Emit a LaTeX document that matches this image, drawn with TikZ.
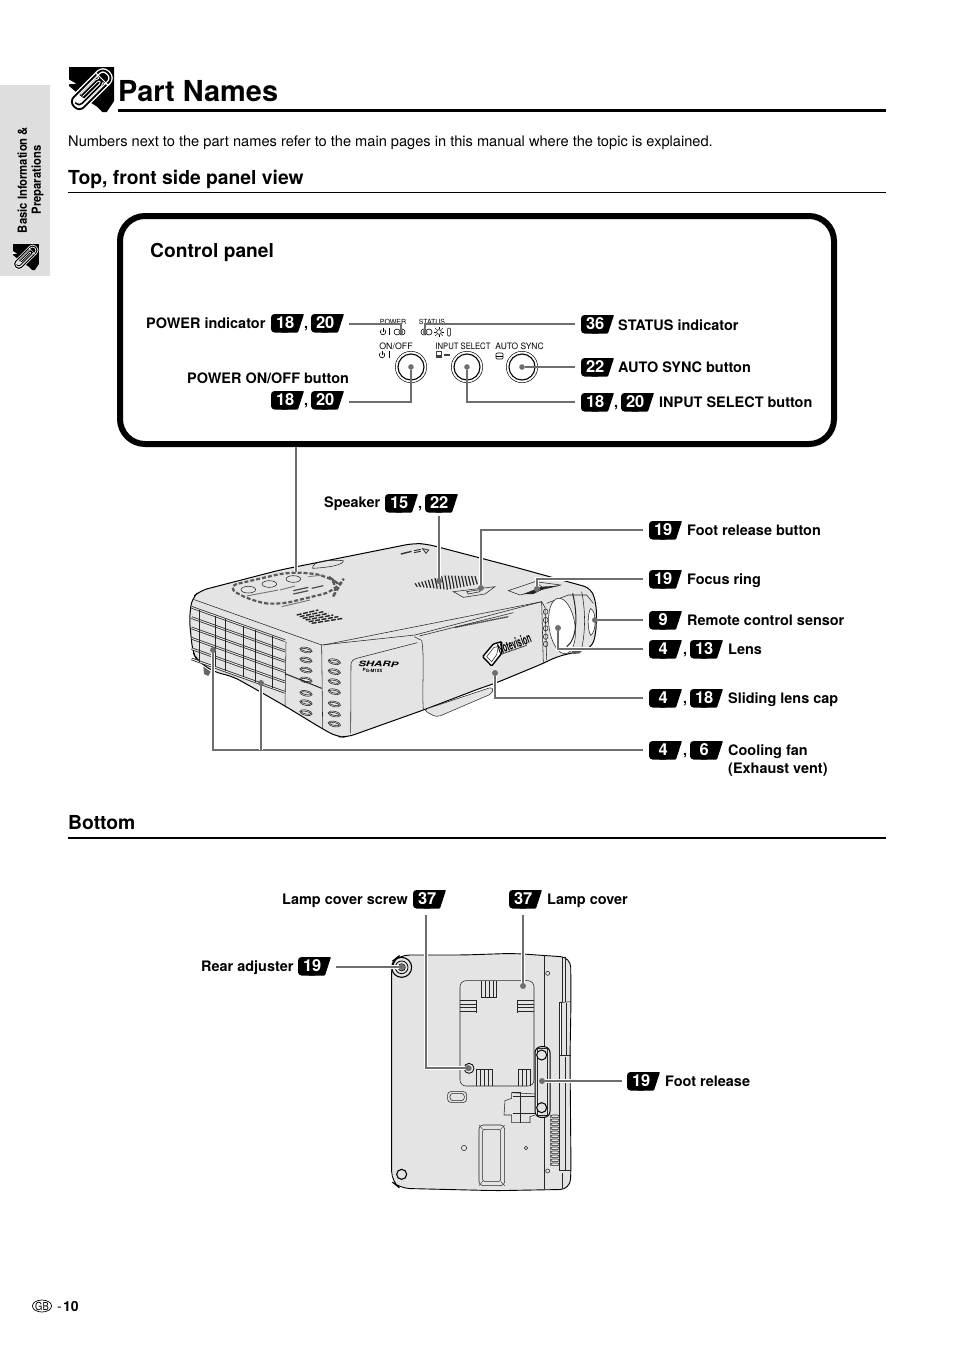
\documentclass[tikz,border=0pt]{standalone}
\usepackage{fontspec}
\usepackage{graphicx}
\usetikzlibrary{shapes.geometric}
\setmainfont{TeX Gyre Heros}
\definecolor{conngray}{HTML}{6E6E6E}
\definecolor{bodygray}{HTML}{E4E4E4}
\definecolor{tabgray}{HTML}{DEDEDE}
\newcommand\fsz[1]{\fontsize{#1}{#1}\selectfont}
\tikzset{
  x=1pt,y=-1pt,
  lbl/.style={anchor=base west,inner sep=0pt,font=\fsz{14.45}\bfseries},
  badgetext/.style={anchor=west,inner sep=0pt,minimum width=28pt,minimum height=17pt,text=white,font=\fsz{16.5}\bfseries,align=center},
  conn/.style={draw=conngray,line width=1.7pt,preaction={draw=white,line width=3.6pt}},
  connp/.style={draw=conngray,line width=1.7pt},
  dotn/.style={circle,fill=conngray,inner sep=0pt,minimum size=5.6pt},
  thin line/.style={line width=.55pt,draw=black!85},
  hair/.style={line width=.4pt,draw=black!80},
  tinyt/.style={inner sep=0pt,font=\fsz{7}},
  smallt/.style={inner sep=0pt,font=\fsz{8.8}},
  comma/.style={inner sep=0pt,font=\fsz{14.3}\bfseries,anchor=base},
}
% name, left x, centre y, text
\newcommand\badge[4]{%
  \fill[rounded corners=3.5pt] (#2,#3-9) rectangle (#2+20,#3+9.5);
  \fill[rounded corners=.8pt] (#2+10,#3-9) -- (#2+33,#3-9) -- (#2+27,#3+9.5) -- (#2+10,#3+9.5) -- cycle;
  \node[badgetext] (#1) at (#2,#3) {#4};}
% x, y, size
\newcommand\clipicon[3]{%
  \begin{scope}[shift={(#1,#2)},x=#3/100*1pt,y=-#3/100*1pt]
    \fill (0,0) -- (100,0) -- (100,76) -- (84,100) -- (74,100) -- (62,88) -- (28,66) -- (0,42) -- cycle;
    \fill[white] (0,28) -- (16,37) -- (0,38) -- cycle;
    \begin{scope}[shift={(50,50)},rotate=45]
      \draw[white,line width=#3*.10pt,rounded corners=#3*.14pt] (-54,-16) rectangle (52,16);
      \draw[black,line width=#3*.04pt,rounded corners=#3*.14pt] (-54,-16) rectangle (52,16);
      \draw[white,line width=#3*.08pt,rounded corners=#3*.09pt] (-46,-5) -- (-46,7) -- (30,7) -- (30,-6) -- (-25,-6);
      \draw[black,line width=#3*.035pt,rounded corners=#3*.09pt] (-46,-5) -- (-46,7) -- (30,7) -- (30,-6) -- (-25,-6);
    \end{scope}
  \end{scope}}
\begin{document}
\begin{tikzpicture}
\useasboundingbox (0,0) rectangle (954,1349);
\fill[white] (0,0) rectangle (954,1349);
% side tab
\fill[tabgray] (0,85) rectangle (50,276);
\node[rotate=90,inner sep=0pt,align=center,font=\fsz{12.5}\bfseries] (tabtext) at (30.5,180) {\scalebox{.9}[1]{Basic Information \&}\\[1.5pt]\scalebox{.9}[1]{Preparations}};
\clipicon{13}{244}{26}
% title
\clipicon{69}{67}{45}
\node[anchor=base west,inner sep=0pt,font=\fsz{28.9}\bfseries] (title) at (118,101) {Part Names};
\draw[line width=3pt] (118,110.5) -- (886,110.5);
\node[anchor=base west,inner sep=0pt,font=\fsz{14.62}] (intro) at (68,146) {Numbers next to the part names refer to the main pages in this manual where the topic is explained.};
\node[anchor=base west,inner sep=0pt,font=\fsz{19.3}\bfseries] (sec1) at (68,184) {Top, front side panel view};
\draw[line width=.8pt] (68,192.5) -- (886,192.5);
\node[anchor=base west,inner sep=0pt,font=\fsz{19.3}\bfseries] (sec2) at (68,829) {Bottom};
\draw[line width=1.3pt] (68,838) -- (886,838);
% control panel
\draw[line width=6pt,rounded corners=25pt] (120,216) rectangle (834,444);
\node[anchor=base west,inner sep=0pt,font=\fsz{19.2}\bfseries] (cp) at (150,257) {Control panel};

\node[tinyt] (tpower) at (393,322) {POWER};
\node[tinyt] (tstatus) at (432,322) {STATUS};
\node[smallt] (tonoff) at (396,346) {ON/OFF};
\node[smallt] (tinput) at (463,346) {\scalebox{.87}[1]{INPUT SELECT}};
\node[smallt] (tauto) at (519.5,346) {\scalebox{.96}[1]{AUTO SYNC}};
% indicator symbols
\draw[line width=.6pt] (383,332) ++(55:2.8pt) arc[start angle=55,end angle=-235,radius=2.8pt];
\draw[line width=.6pt] (383,328) -- (383,332);
\draw[line width=.7pt] (389,328) -- (389,335);
\foreach \cx in {397,402,424,429}{\draw[line width=.6pt] (\cx,332) circle (3pt);}
\draw[line width=.6pt] (439,332) circle (2.4pt);
\foreach \a in {0,45,...,315}{\draw[line width=.5pt] (439,332) ++(\a:3.4pt) -- ++(\a:1.8pt);}
\draw[line width=.5pt,rounded corners=1pt] (447.5,328) rectangle (450.5,336);
\draw[line width=.6pt] (382,355) ++(55:2.8pt) arc[start angle=55,end angle=-235,radius=2.8pt];
\draw[line width=.6pt] (382,351) -- (382,355);
\draw[line width=.7pt] (389,351) -- (389,358);
\fill[black!75] (436,351) rectangle (442,358);
\fill[white] (437,352) rectangle (441,355);
\fill[black!75] (443.5,354) rectangle (450,356);
\draw[line width=.6pt,rounded corners=1pt] (496,353) rectangle (503,359);
\draw[line width=.5pt] (496,356) -- (503,356);
% buttons
\foreach \nm/\bx in {bon/411,bin/467,bau/522}{
  \draw[line width=.5pt] (\bx,367) circle (15.7pt);
  \draw[line width=1.1pt] (\bx,367) circle (13pt);
}
% control panel labels
\node[lbl] (lpi) at (146,328) {POWER indicator};
\badge{bpi1}{271}{323}{18}
\node[comma] (cpi) at (306,328) {,};
\badge{bpi2}{311}{323}{20}
\node[lbl] (lpo) at (187,383) {POWER ON/OFF button};
\badge{bpo1}{271}{400}{18}
\node[comma] (cpo) at (306,405) {,};
\badge{bpo2}{311}{400}{20}
\badge{bst}{581}{324}{36}
\node[lbl] (lst) at (618,330) {STATUS indicator};
\badge{bas}{581}{367}{22}
\node[lbl] (las) at (618,372) {AUTO SYNC button};
\badge{bis1}{581}{402}{18}
\node[comma] (cis) at (616,407) {,};
\badge{bis2}{621}{402}{20}
\node[lbl] (lis) at (659,407) {INPUT SELECT button};
% control panel connectors
\node[dotn,minimum size=4.4pt] (dpi) at (401,332) {};
\node[dotn,minimum size=4.4pt] (dst) at (425,332) {};
\node[dotn] (dpo) at (411,367) {};
\node[dotn] (dis) at (467,367) {};
\node[dotn] (das) at (522,367) {};
\coordinate (spi) at (349,324);
\coordinate (spo) at (349,402);
\coordinate (sst) at (575,324);
\coordinate (sas) at (575,367);
\coordinate (sis) at (575,402);
\draw[connp] (spi) -| (dpi);
\draw[connp] (sst) -| (dst);
\draw[connp] (spo) -| (dpo);
\draw[connp] (sis) -| (dis);
\draw[connp] (sas) -- (das);

% ===== projector (coordinates of a 3x view) =====
\begin{scope}[shift={(180,520)},x=.33333pt,y=-.33333pt]
  \fill[bodygray,draw=black,line width=1pt,rounded corners=8pt]
    (35,235) -- (60,212) -- (300,150) -- (700,70) -- (740,72) -- (1000,140) -- (1235,205) -- (1250,260) -- (1248,340) -- (1235,385) -- (1130,410) -- (1090,430) -- (945,490) -- (900,505) -- (730,570) -- (500,652) -- (470,650) -- (425,625) -- (315,558) -- (240,515) -- (160,470) -- (100,455) -- (50,420) -- (38,395) -- (28,300) -- cycle;
  % feet
  \fill[black!60] (70,440) -- (92,455) -- (85,468) -- (72,462) -- cycle;
  \draw[thin line,fill=bodygray,rounded corners=4pt] (730,570) -- (770,592) -- (938,520) -- (940,500) -- cycle;
  \fill[black!65] (1175,392) -- (1205,388) -- (1200,400) -- (1180,402) -- cycle;
  % main edges
  \draw[thin line] (40,238) -- (425,375) -- (428,625);
  \draw[thin line] (425,375) -- (705,345);
  \draw[thin line] (430,375) -- (1085,245);
  \draw[thin line] (1085,245) -- (1095,262) -- (1100,420);
  \draw[thin line] (705,345) -- (1085,245) -- (1090,430);
  \draw[thin line] (725,360) .. controls (735,420) and (725,500) .. (730,568);
  \draw[thin line] (703,350) -- (722,360);
  \draw[thin line] (513,435) .. controls (512,425) and (520,418) .. (530,415) -- (712,368);
  \draw[thin line] (513,435) -- (512,640);
  \draw[thin line] (318,365) -- (315,558);
  \draw[line width=1pt,draw=black!85] (318,462) -- (425,505);
  % left vent
  \foreach \i in {0,...,5}{
    \draw[line width=2.5pt,draw=black!85] ({35},{262+31*\i}) -- ({315},{362+31*\i});
    \draw[line width=1pt,draw=bodygray] ({35},{262+31*\i}) -- ({315},{362+31*\i});
  }
  \foreach \xx in {58,105,137,190,225,278}{
    \draw[thin line] ({\xx},{262+(\xx-35)*.357}) -- ({\xx},{262+155+(\xx-35)*.357});
  }
  % oval slots
  \foreach \yy in {390,420,450,480,520,548,578}{
    \draw[thin line,shift={(378,\yy)},rotate=-12] (0,0) ellipse [x radius=19,y radius=8];
    \draw[thin line,shift={(378,\yy)},rotate=-12] (0,0) ellipse [x radius=15,y radius=4];
  }
  \foreach \yy in {425,455,485,515,552,582,612}{
    \draw[thin line,shift={(463,\yy)},rotate=-12] (0,0) ellipse [x radius=19,y radius=8];
    \draw[thin line,shift={(463,\yy)},rotate=-12] (0,0) ellipse [x radius=15,y radius=4];
  }
  \foreach \yy in {275,300,325,350,372}{
    \draw[thin line,shift={(1097,\yy)},rotate=-8] (0,0) ellipse [x radius=7,y radius=8];
  }
  % lens
  \draw[thin line] (1100,250) -- (1165,225) -- (1220,225) -- (1240,250);
  \draw[thin line,fill=white,shift={(1146,318)},rotate=8] (0,0) ellipse [x radius=39,y radius=84];
  \draw[line width=1pt,draw=black!85] (1178,220) .. controls (1195,290) and (1190,360) .. (1160,380);
  \draw[thin line] (1205,215) .. controls (1218,280) and (1215,340) .. (1205,385);
  \draw[thin line,fill=white] (1232,265) .. controls (1222,280) and (1222,330) .. (1232,346) .. controls (1250,335) and (1250,275) .. (1232,265);
  % speaker grill
  \foreach \gi in {0,...,18}{
    \draw[line width=1.2pt,draw=black!85] ({705+\gi*10},{190-\gi*1.2-(9-abs(\gi-9))*1.4}) .. controls ({710+\gi*10},{195-\gi*.4}) .. ({712+\gi*10},{200-\gi*.4+(9-abs(\gi-9))*1.4});
  }
  % foot button slot
  \draw[thin line,fill=bodygray] (820,215) -- (945,200) -- (915,222) -- (850,232) -- cycle;
  \draw[thin line] (860,215) -- (900,209) -- (900,215) -- (865,222) -- cycle;
  % focus
  \draw[thin line,fill=bodygray] (985,212) -- (1065,185) -- (1142,195) -- (1060,215) -- (1020,225) -- cycle;
  \fill[black!85] (1030,222) -- (1085,200) -- (1140,197) -- (1090,207) -- (1060,222) -- cycle;
  \draw[thin line] (1065,185) -- (1085,200);
  % top hump & small marks
  \draw[thin line] (398,145) .. controls (395,125) and (440,118) .. (490,122) .. controls (490,135) and (450,142) .. (398,145);
  \fill[black!80] (662,100) -- (695,92) -- (695,96) -- (664,104) -- cycle;
  \draw[line width=1pt,draw=black!80] (702,92) -- (722,88) (702,98) -- (722,94);
  \draw[line width=.8pt,draw=black!80] (728,86) -- (746,90) -- (738,100) -- cycle;
  % panel on top
  \draw[line width=2.2pt,draw=black!65,dash pattern=on 4pt off 2pt,rounded corners=14pt]
    (135,200) -- (330,155) -- (440,165) -- (480,195) -- (470,212) -- (295,255) -- (220,245) -- cycle;
  \foreach \bx/\by in {205/209,268/192,340/177}{
    \draw[thin line,fill=bodygray] (\bx,\by) ellipse [x radius=22,y radius=10];
  }
  \draw[line width=.9pt,draw=black!55] (200,228) -- (295,210);
  \draw[line width=.9pt,draw=black!55] (300,210) -- (345,198);
  \draw[line width=1.2pt,draw=black!70] (340,212) -- (385,202);
  \draw[line width=1.2pt,draw=black!70] (340,222) -- (385,212);
  \draw[line width=1.2pt,draw=black!70] (395,205) -- (430,197);
  \draw[line width=.9pt,draw=black!50] (385,170) -- (430,165);
  \draw[line width=.9pt,draw=black!55] (305,260) -- (390,240);
  % left grille
  \foreach \gy in {0,...,5}{
    \draw[line width=1.4pt,draw=black!85,dash pattern=on 5pt off 1.5pt] ({350+\gy*9},{285+\gy*5}) -- ({415+\gy*15},{270+\gy*5});
  }
  % slit on the lid
  \draw[line width=1.3pt,draw=black!75,dash pattern=on 1.5pt off .5pt] (825,322) -- (985,290);
  \draw[thin line] (718,348) -- (1000,278);
  % brand
  \node[inner sep=0pt,rotate=-2,font=\fsz{9.5}\bfseries\itshape] (sharp) at (595,432) {\scalebox{1.2}[.8]{SHARP}};
  \node[inner sep=0pt,rotate=-2,font=\fsz{4.5}\bfseries] (model) at (578,452) {PG-M10X};
  % logo
  \draw[line width=1.4pt,fill=white,rounded corners=1pt] (908,410) -- (940,372) -- (965,365) -- (965,400) -- (935,438) -- cycle;
  \draw[thin line] (920,410) -- (942,382) -- (955,380) -- (950,404) -- (935,425) -- cycle;
  \node[inner sep=0pt,rotate=20,font=\fsz{11}\bfseries] (logo) at (1003,371) {\scalebox{.62}[1.25]{Notevision}};
  \draw[line width=.9pt,draw=black!70] (965,402) -- (1040,376);
\end{scope}

% labels around the projector
\node[lbl] (lsp) at (324,507) {Speaker};
\badge{bsp1}{385}{503}{15}
\node[comma] (csp) at (420,508) {,};
\badge{bsp2}{425}{503}{22}
\badge{bfb}{649}{530}{19}
\node[lbl] (lfb) at (687,535) {Foot release button};
\badge{bfr}{649}{579}{19}
\node[lbl] (lfr) at (687,584) {Focus ring};
\badge{brc}{649}{620}{9}
\node[lbl] (lrc) at (687,625) {Remote control sensor};
\badge{bl1}{649}{649}{4}
\node[comma] (cl) at (685,654) {,};
\badge{bl2}{690}{649}{13}
\node[lbl] (ll) at (728,654) {Lens};
\badge{bc1}{649}{698}{4}
\node[comma] (cc) at (685,703) {,};
\badge{bc2}{690}{698}{18}
\node[lbl] (lc) at (728,703) {Sliding lens cap};
\badge{bv1}{649}{750}{4}
\node[comma] (cv) at (685,755) {,};
\badge{bv2}{690}{750}{6}
\node[lbl] (lv1) at (728,755) {Cooling fan};
\node[lbl] (lv2) at (728,773) {(Exhaust vent)};
% projector connectors
\coordinate (boxb) at (296,447);
\coordinate (panelt) at (296,572);
\draw[conn] (boxb) -- (panelt);
\node[dotn] (dsp) at (439,581) {};
\node[dotn] (dfb) at (481,588) {};
\node[dotn] (dfr) at (537,589) {};
\node[dotn] (drc) at (595,620) {};
\node[dotn] (dl) at (558,628) {};
\node[dotn] (dc) at (495,673) {};
\node[dotn] (dv1) at (213,650) {};
\node[dotn] (dv2) at (261,683) {};
\coordinate (ssp) at (439,516);
\coordinate (jv) at (261,750);
\coordinate (sfb) at (643,530);
\coordinate (sfr) at (643,579);
\coordinate (src) at (643,620);
\coordinate (sl) at (643,649);
\coordinate (sc) at (643,698);
\coordinate (sv) at (643,750);
\draw[conn] (ssp) -- (dsp);
\draw[conn] (sfb) -| (dfb);
\draw[conn] (sfr) -| (dfr);
\draw[conn] (src) -- (drc);
\draw[conn] (sl) -| (dl);
\draw[conn] (sc) -| (dc);
\draw[conn] (sv) -| (dv1);
\draw[conn] (jv) -- (dv2);
\foreach \d in {dsp,dfb,dfr,drc,dl,dc,dv1,dv2}{\fill[conngray] (\d) circle (2.8pt);}

% ===== bottom view =====
\begin{scope}[shift={(380,940)},x=.33333pt,y=-.33333pt]
  \fill[bodygray,draw=black,line width=.9pt,rounded corners=10pt]
    (35,65) -- (60,45) -- (250,45) -- (400,40) -- (572,52) -- (573,185) -- (570,350) -- (573,690) -- (570,748) -- (350,752) -- (60,745) -- (35,725) -- cycle;
  \draw[thin line] (493,45) -- (493,748);
  \draw[thin line] (548,50) -- (548,185);
  \draw[thin line] (555,50) -- (555,185);
  \draw[thin line] (538,188) -- (572,185);
  \draw[thin line,fill=white] (538,188) rectangle (545,345);
  \draw[thin line] (538,188) -- (538,690) -- (572,690);
  \draw[thin line] (538,345) -- (572,345);
  \draw[thin line] (560,190) -- (560,345);
  \draw[thin line] (555,350) -- (555,690);
  \draw[thin line] (548,700) -- (548,748);
  % lamp cover
  \draw[thin line,rounded corners=6pt] (240,122) rectangle (462,438);
  \foreach \xx in {303,315,327,339,350}{\draw[thin line] (\xx,123) -- (\xx,172);}
  \draw[thin line] (303,172) -- (350,172);
  \foreach \xx in {288,300,312,324,336}{\draw[thin line] (\xx,388) -- (\xx,437);}
  \draw[thin line] (288,388) -- (336,388);
  \foreach \xx in {416,428,440,450}{\draw[thin line] (\xx,388) -- (\xx,437);}
  \draw[thin line] (416,388) -- (450,388);
  \foreach \yy in {182,192,203,214}{
    \draw[thin line] (241,\yy) -- (290,\yy);
    \draw[thin line] (411,\yy) -- (461,\yy);
  }
  \draw[thin line] (290,182) -- (290,218);
  \draw[thin line] (411,182) -- (411,218);
  % screw
  \draw[line width=.8pt] (267,385) circle [radius=15];
  \fill[black!55] (267,385) circle [radius=8];
  % block
  \draw[thin line,rounded corners=3pt] (203,455) rectangle (260,487);
  \draw[thin line,rounded corners=3pt] (210,460) rectangle (253,482);
  % mechanism
  \draw[thin line] (465,462) -- (395,458) -- (395,475) -- (375,482) -- (372,525) -- (395,525) -- (395,548) -- (450,548) -- (450,530) -- (465,525);
  \draw[thin line] (395,458) -- (420,458) -- (420,548);
  \draw[thin line] (398,470) -- (465,470);
  \draw[thin line] (398,520) -- (465,520);
  % foot release bar
  \draw[line width=1pt,fill=bodygray,rounded corners=6pt] (465,320) rectangle (510,532);
  \draw[thin line] (472,326) rectangle (503,526);
  \draw[line width=1pt,fill=bodygray] (485,345) circle [radius=15];
  \draw[line width=1pt,fill=bodygray] (485,503) circle [radius=15];
  % corners
  \draw[line width=1.1pt] (65,82) circle [radius=30];
  \draw[line width=.8pt] (65,82) circle [radius=19];
  \draw[line width=.6pt,fill=black!35] (65,82) circle [radius=11];
  \draw[line width=1.1pt] (65,703) circle [radius=15];
  % lower hatch
  \draw[thin line,rounded corners=4pt] (297,555) rectangle (374,737);
  \draw[thin line,rounded corners=2pt] (308,568) rectangle (362,724);
  \draw[hair] (297,555) -- (308,568) (374,555) -- (362,568) (297,737) -- (308,724) (374,737) -- (362,724);
  % small holes
  \draw[thin line] (252,624) circle [radius=8];
  \draw[thin line] (438,624) circle [radius=5];
  \draw[thin line] (503,100) circle [radius=6];
  \draw[thin line] (503,693) circle [radius=6];
  % side vents
  \foreach \yy in {525,537,549,561,573,585,597,609,621,633,645,657,669}{
    \draw[thin line,rounded corners=2pt] (512,\yy) rectangle (538,\yy+8);
  }
\end{scope}
% labels of the bottom view
\node[lbl] (lls) at (282,904) {Lamp cover screw};
\badge{bls}{413}{899}{37}
\badge{blc}{509}{899}{37}
\node[lbl] (llc) at (547,904) {Lamp cover};
\node[lbl] (lra) at (201,971) {Rear adjuster};
\badge{bra}{298}{966}{19}
\badge{bfo}{627}{1081}{19}
\node[lbl] (lfo) at (665,1086) {Foot release};
\node[dotn] (dls) at (468,1068) {};
\node[dotn] (dlc) at (523,986) {};
\node[dotn] (dra) at (402,967) {};
\node[dotn] (dfo) at (542,1081) {};
\coordinate (sls) at (426,915);
\coordinate (slc) at (523,915);
\coordinate (sra) at (336,967);
\coordinate (sfo) at (622,1081);
\draw[conn] (sls) |- (dls);
\draw[conn] (slc) -- (dlc);
\draw[conn] (sra) -- (dra);
\draw[conn] (sfo) -- (dfo);
\foreach \d in {dls,dlc,dra,dfo}{\fill[conngray] (\d) circle (2.8pt);}
% footer
\node[draw,ellipse,line width=.7pt,inner sep=0pt,minimum width=18pt,minimum height=12pt,font=\fsz{11}] (gb) at (42,1306) {\scalebox{.85}[1]{GB}};
\node[anchor=base west,inner sep=0pt,font=\fsz{14}] (dash) at (57,1311) {-};
\node[anchor=base west,inner sep=0pt,font=\fsz{14}\bfseries] (pg) at (63,1311) {10};
\end{tikzpicture}
\end{document}
